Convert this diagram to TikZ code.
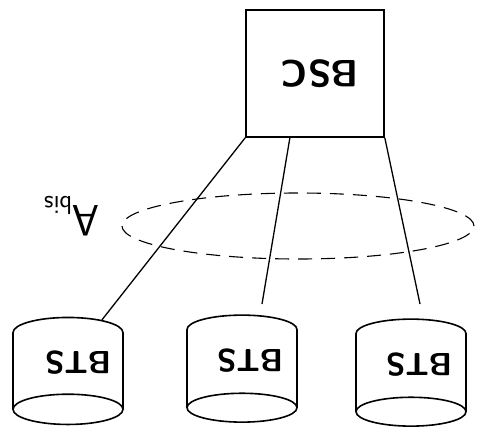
\documentclass[tikz,border=0pt]{standalone}
\usetikzlibrary{shapes.geometric,calc}
\begin{document}
\begin{tikzpicture}[x=1pt,y=-1pt,
  boxstyle/.style={draw,line width=1.6pt,minimum width=138pt,minimum height=127pt,inner sep=0pt,
     font=\sffamily\bfseries\fontsize{38}{38}\selectfont,rotate=180},
  btsstyle/.style={draw,cylinder,shape border rotate=90,aspect=0.35,line width=1.6pt,
     minimum width=110pt,minimum height=107pt,inner sep=0pt,
     font=\sffamily\bfseries\fontsize{32}{32}\selectfont,rotate=180},
  linkstyle/.style={line width=1.3pt},
  ringstyle/.style={draw,ellipse,dashed,dash pattern=on 14pt off 9pt,line width=1.1pt,
     minimum width=352pt,minimum height=66pt,inner sep=0pt},
  lblstyle/.style={font=\sffamily\fontsize{44}{44}\selectfont,rotate=180,inner sep=0pt}]
\useasboundingbox (0,0) rectangle (486,428);
\node[boxstyle] (bsc) at (315,73.5) {BSC\kern10pt\relax};
\node[btsstyle] (bts1) at (68,363) {BTS\kern20pt\relax};
\node[btsstyle] (bts2) at (242,361) {BTS\kern16pt\relax};
\node[btsstyle] (bts3) at (411,365) {BTS\kern16pt\relax};
\node[ringstyle] (ring) at (298,226) {};
\node[lblstyle] (abis) at (72,216) {A\raisebox{-9pt}{\fontsize{26}{26}\selectfont bis}};
\coordinate (s2) at ($(bsc.north east)!0.32!(bsc.north west)$);
\coordinate (t2) at (262,304);
\coordinate (t3) at (420,304);
\draw[linkstyle] (bsc.north east) -- (bts1);
\draw[linkstyle] (s2) -- (t2);
\draw[linkstyle] (bsc.north west) -- (t3);
\end{tikzpicture}
\end{document}
